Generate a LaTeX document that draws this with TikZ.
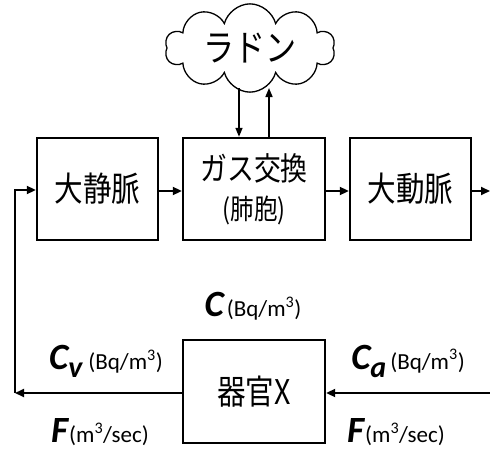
\documentclass[tikz,border=0pt]{standalone}
\usepackage{fontspec}
\setmainfont{Carlito}
\newfontfamily\jp[FakeStretch=0.84]{Noto Sans CJK JP}
\usetikzlibrary{shapes.symbols,arrows.meta}
\tikzset{
  blk/.style={draw, line width=2.4pt, inner sep=0pt, minimum height=102pt, font=\jp\fontsize{34}{36}\selectfont, align=center},
  flow/.style={line width=2pt, -{Triangle[length=9pt,width=8pt]}},
  thin/.style={line width=1.6pt, -{Triangle[length=9pt,width=7pt]}},
  lbl/.style={inner sep=0pt, anchor=center},
}
\newcommand{\bigv}[1]{{\fontsize{37}{37}\selectfont\bfseries\itshape #1}}
\newcommand{\subv}[1]{\raisebox{-8pt}{\fontsize{30}{30}\selectfont\bfseries\itshape #1}}
\newcommand{\unitt}[1]{{\fontsize{23}{23}\selectfont #1}}
\begin{document}
\begin{tikzpicture}[x=1pt,y=-1pt]
\useasboundingbox (0,0) rectangle (490,452);
\node[cloud, cloud puffs=10, aspect=2.2, draw, line width=1.3pt, minimum width=170pt, minimum height=80pt, inner sep=0pt, font=\jp\fontsize{37}{37}\selectfont] (radon) at (250,48) {ラドン};
\node[blk, minimum width=121pt] (vein) at (97.5,189) {大静脈};
\node[blk, minimum width=142pt] (gas) at (254,189) {{\fontsize{32}{32}\selectfont ガス交換}\\[3pt]{\fontsize{28}{28}\selectfont (肺胞)}};
\node[blk, minimum width=121pt] (artery) at (410.5,189) {大動脈};
\node[blk, minimum width=142pt, minimum height=103pt] (organ) at (254,391.5) {器官X};
\coordinate (d1) at (239,88);
\coordinate (u1) at (269,88);
\draw[thin] (d1) -- (d1 |- gas.north);
\draw[thin] (u1 |- gas.north) -- (u1);
\coordinate (outR) at (490,191);
\coordinate (inR) at (490,393);
\coordinate (bl) at (15,393);
\draw[flow] (vein.east |- 0,191) -- (gas.west |- 0,191);
\draw[flow] (gas.east |- 0,191) -- (artery.west |- 0,191);
\draw[flow] (artery.east |- 0,191) -- (outR);
\draw[flow] (organ.west |- bl) -- (bl);
\draw[flow] (bl) -- (15,190) -- (vein.west |- 0,190);
\draw[flow] (inR) -- (organ.east |- inR);
\node[lbl] (lc) at (253,306) {\bigv{C}\hspace{3pt}\unitt{(Bq/m\textsuperscript{3})}};
\node[lbl] (lcv) at (106,361) {\bigv{C}\subv{v}\hspace{6pt}\unitt{(Bq/m\textsuperscript{3})}};
\node[lbl] (lca) at (408,361) {\bigv{C}\subv{a}\hspace{4pt}\unitt{(Bq/m\textsuperscript{3})}};
\node[lbl] (lf1) at (100,432) {\bigv{F}\hspace{1pt}\unitt{(m\textsuperscript{3}/sec)}};
\node[lbl] (lf2) at (396,432) {\bigv{F}\hspace{1pt}\unitt{(m\textsuperscript{3}/sec)}};
\end{tikzpicture}
\end{document}
